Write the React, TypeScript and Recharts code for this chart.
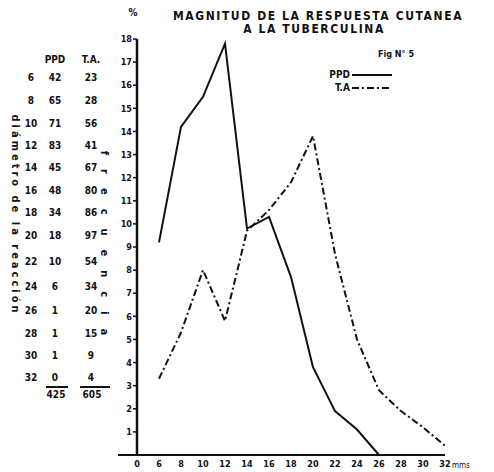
import React from "react";
import { LineChart, Line, XAxis, YAxis } from "recharts";

// diámetro de la reacción (mm) — the leading "0" is only the origin label
const MM = ["0", "6", "8", "10", "12", "14", "16", "18", "20", "22", "24", "26", "28", "30", "32"];
// porcentaje de casos
const PPD_PCT = [null, 9.2, 14.2, 15.5, 17.8, 9.8, 10.3, 7.7, 3.8, 1.9, 1.1, 0, 0, 0, null];
const TA_PCT = [null, 3.3, 5.3, 8.0, 5.8, 9.7, 10.6, 11.8, 13.8, 8.7, 5.0, 2.8, 1.9, 1.2, 0.4];
const Y_TICKS = [1, 2, 3, 4, 5, 6, 7, 8, 9, 10, 11, 12, 13, 14, 15, 16, 17, 18];

// tabla de frecuencias a la izquierda
const TABLE_MM = ["6", "8", "10", "12", "14", "16", "18", "20", "22", "24", "26", "28", "30", "32"];
const TABLE_PPD = ["42", "65", "71", "83", "45", "48", "34", "18", "10", "6", "1", "1", "1", "0"];
const TABLE_TA = ["23", "28", "56", "41", "67", "80", "86", "97", "54", "34", "20", "15", "9", "4"];
const TOTALS = ["425", "605"];
const ROW_Y = [77, 100, 123, 145, 167, 190, 212, 235, 261, 286, 310, 333, 355, 377];

const FONT = "'DejaVu Sans Condensed', 'DejaVu Sans', sans-serif";

const data = MM.map((mm, i) => ({ mm, ppd: PPD_PCT[i], ta: TA_PCT[i] }));

export default function App() {
  const tick = { fontFamily: FONT, fontSize: 9, fontWeight: 700, fill: "#111" };
  return (
    <div style={{ position: "absolute", left: 0, top: 0, width: 494, height: 472, background: "#fff" }}>
      <LineChart
        width={494}
        height={472}
        data={data}
        margin={{ top: 39, right: 49, left: 117, bottom: 0 }}
      >
        <XAxis
          dataKey="mm"
          type="category"
          interval={0}
          height={17}
          tickLine={false}
          axisLine={{ stroke: "#111", strokeWidth: 2 }}
          tick={tick}
          tickMargin={0}
        />
        <YAxis
          type="number"
          domain={[0, 18]}
          ticks={Y_TICKS}
          width={20}
          tickSize={4}
          tickLine={{ stroke: "#111", strokeWidth: 1.5 }}
          axisLine={{ stroke: "#111", strokeWidth: 2.5 }}
          tick={tick}
          tickMargin={1}
        />
        <Line
          dataKey="ppd"
          type="linear"
          stroke="#111"
          strokeWidth={2}
          dot={false}
          isAnimationActive={false}
        />
        <Line
          dataKey="ta"
          type="linear"
          stroke="#111"
          strokeWidth={2}
          strokeDasharray="7 3 2 3"
          dot={false}
          isAnimationActive={false}
        />
      </LineChart>

      <svg
        width={494}
        height={472}
        style={{ position: "absolute", left: 0, top: 0, pointerEvents: "none" }}
        fontFamily={FONT}
        fontWeight={700}
        fill="#111"
      >
        {/* título */}
        <text x={318} y={20} fontSize={12} letterSpacing={1.6} textAnchor="middle">MAGNITUD DE LA RESPUESTA CUTANEA</text>
        <text x={314} y={33} fontSize={12} letterSpacing={1.6} textAnchor="middle">A LA TUBERCULINA</text>
        <text x={396} y={57} fontSize={9} textAnchor="middle">Fig N° 5</text>

        {/* leyenda */}
        <text x={350} y={78} fontSize={10} textAnchor="end">PPD</text>
        <line x1={352} y1={75} x2={392} y2={75} stroke="#111" strokeWidth={2} />
        <text x={350} y={91} fontSize={10} textAnchor="end">T.A</text>
        <line x1={352} y1={88} x2={392} y2={88} stroke="#111" strokeWidth={2} strokeDasharray="7 3 2 3" />

        <text x={133} y={16} fontSize={10} textAnchor="middle">%</text>
        <text x={452} y={468} fontSize={8} fontWeight={400}>mms</text>
        <line x1={118} y1={455} x2={137} y2={455} stroke="#111" strokeWidth={2} />

        {/* tabla */}
        <text x={55} y={63} fontSize={10} textAnchor="middle">PPD</text>
        <text x={91} y={63} fontSize={10} textAnchor="middle">T.A.</text>
        {TABLE_MM.map((mm, i) => (
          <g key={mm} fontSize={10}>
            <text x={31} y={ROW_Y[i] + 4} textAnchor="middle">{mm}</text>
            <text x={55} y={ROW_Y[i] + 4} textAnchor="middle">{TABLE_PPD[i]}</text>
            <text x={91} y={ROW_Y[i] + 4} textAnchor="middle">{TABLE_TA[i]}</text>
          </g>
        ))}
        <line x1={46} y1={387} x2={68} y2={387} stroke="#111" strokeWidth={2} />
        <line x1={80} y1={387} x2={110} y2={387} stroke="#111" strokeWidth={2} />
        <text x={56} y={398} fontSize={10} textAnchor="middle">{TOTALS[0]}</text>
        <text x={92} y={398} fontSize={10} textAnchor="middle">{TOTALS[1]}</text>

        <text
          transform="translate(12 215) rotate(90)"
          fontSize={11}
          letterSpacing={3}
          textAnchor="middle"
        >
          diámetro de la reacción
        </text>
        <text
          transform="translate(101 250) rotate(90)"
          fontSize={11}
          textAnchor="middle"
          letterSpacing={14}
        >
          frecuencia
        </text>
      </svg>
    </div>
  );
}
